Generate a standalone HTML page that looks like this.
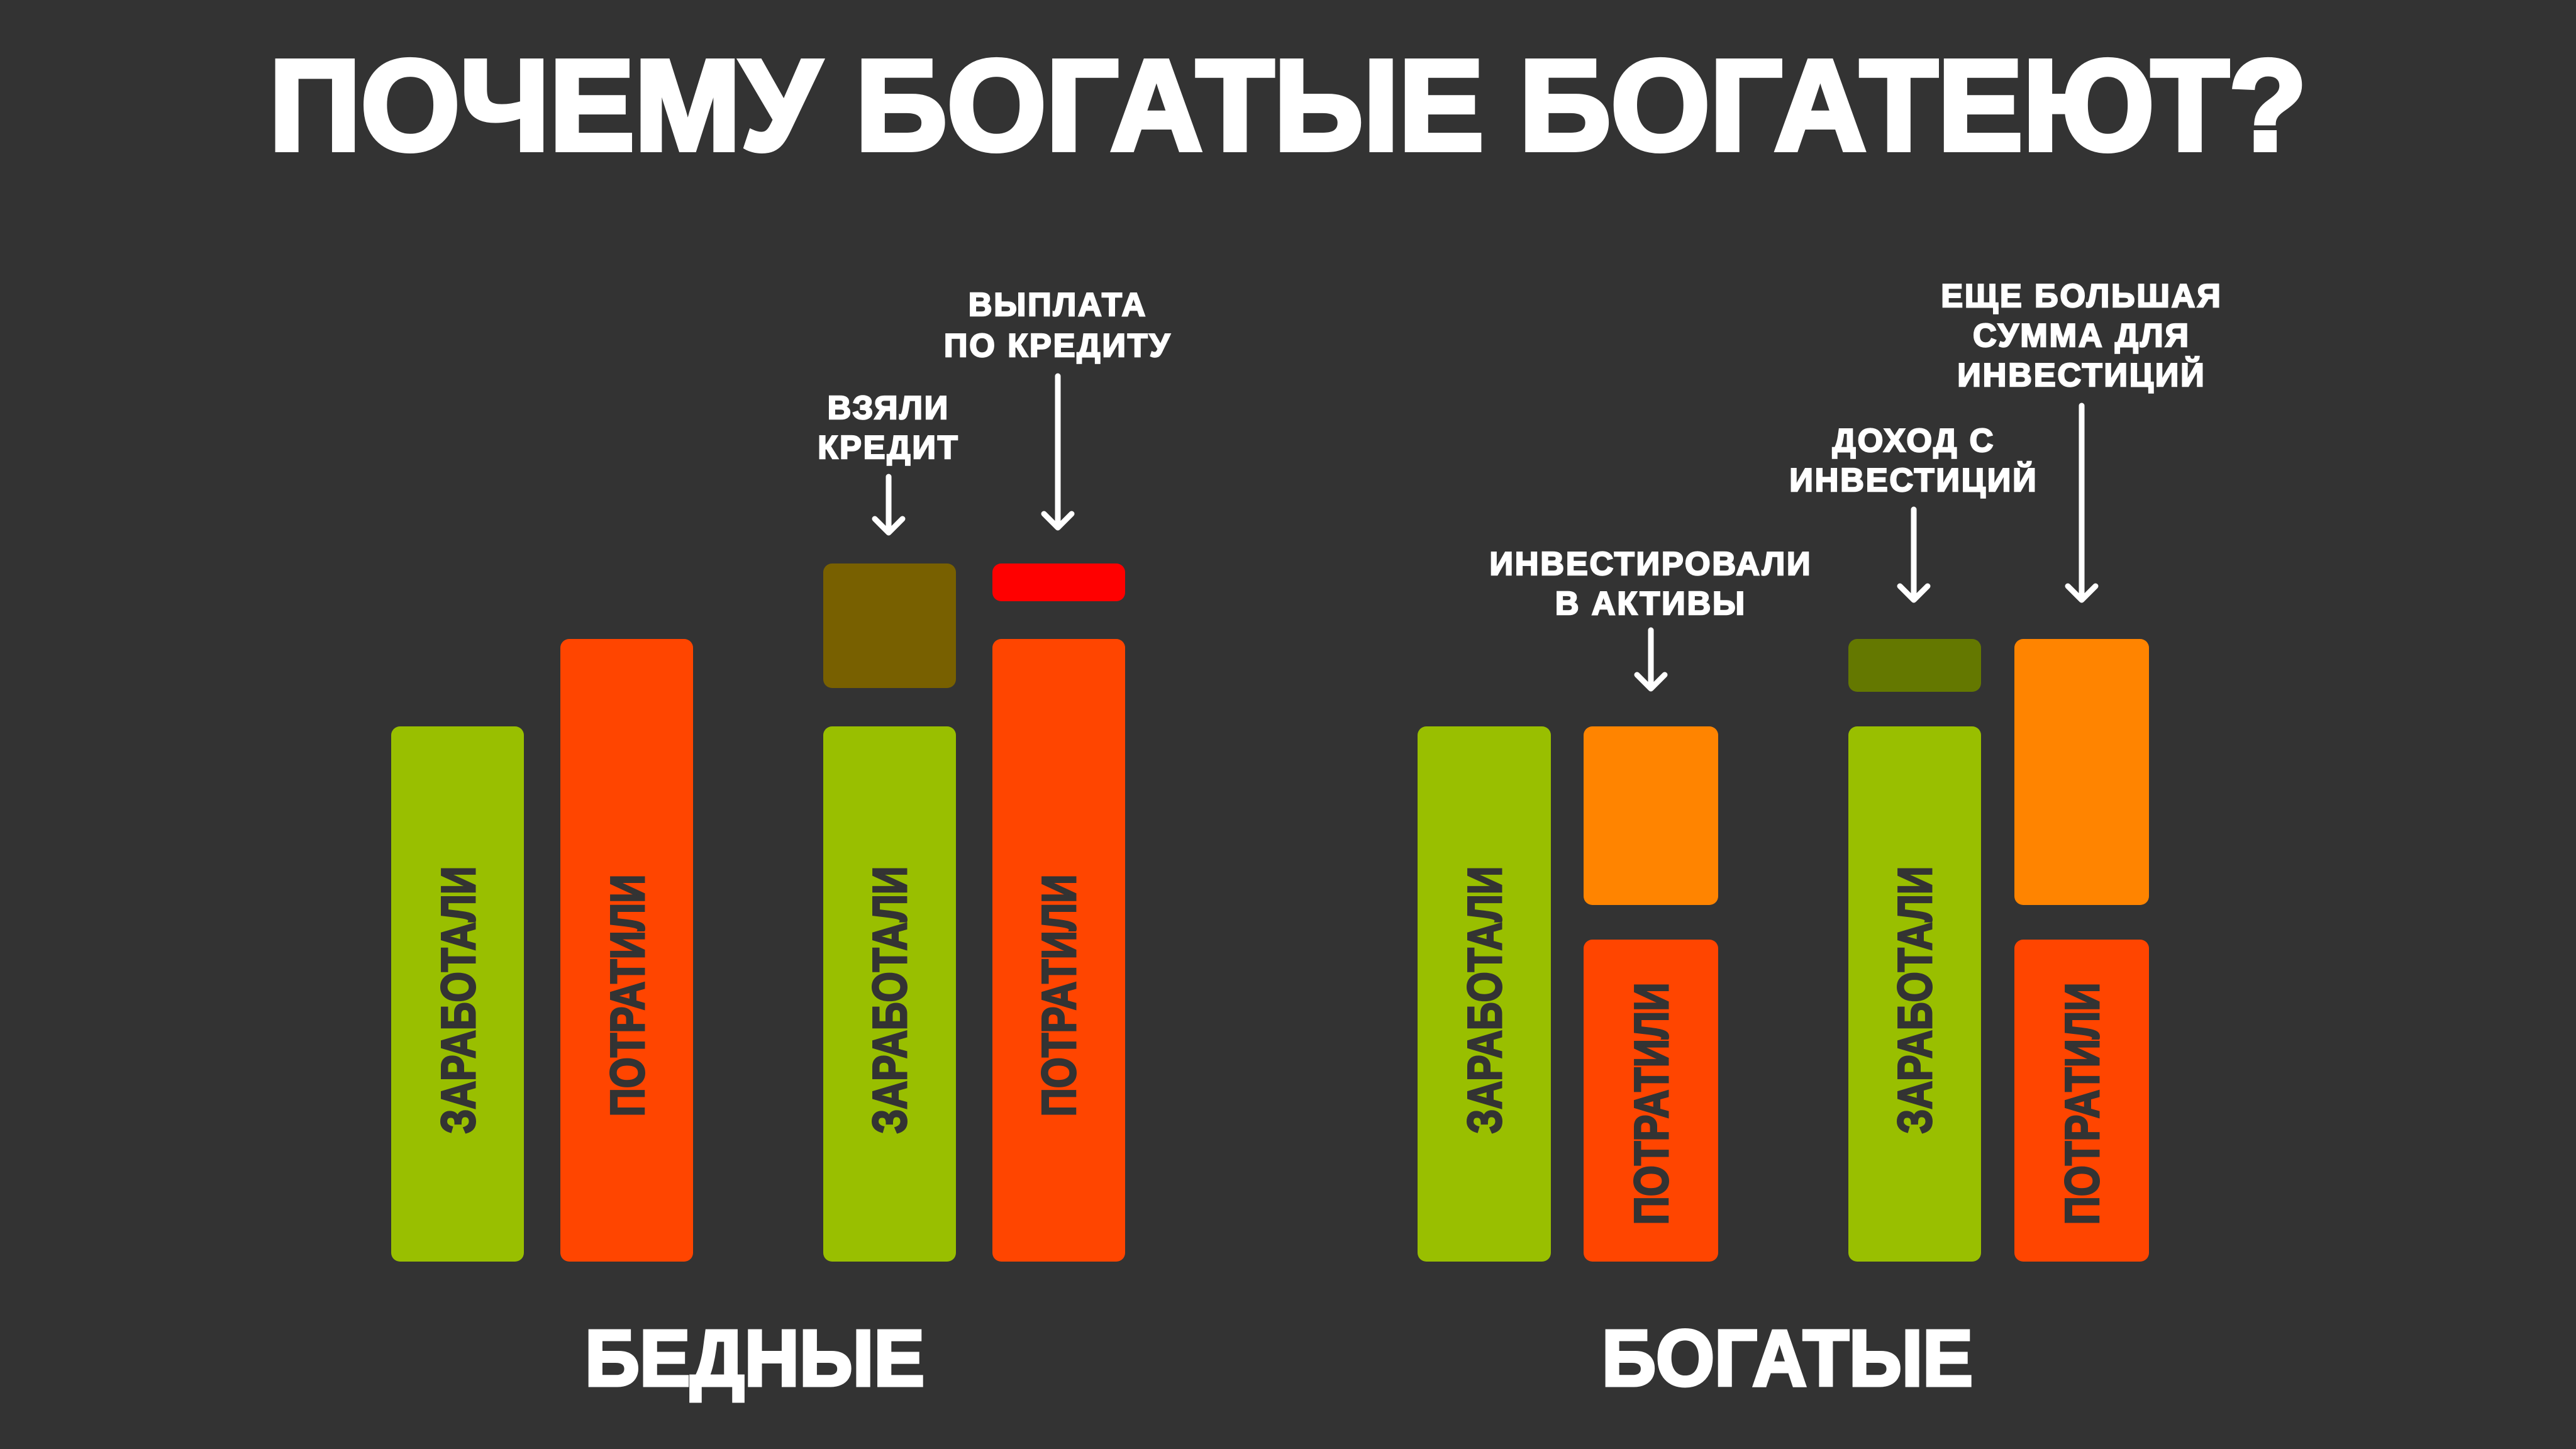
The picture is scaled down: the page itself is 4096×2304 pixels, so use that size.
<!DOCTYPE html>
<html><head><meta charset="utf-8"><style>
html,body{margin:0;padding:0;background:#333333;}
svg{display:block}
text{font-family:"Liberation Sans","DejaVu Sans",sans-serif;font-weight:bold;}
</style></head><body>
<svg width="4096" height="2304" viewBox="0 0 4096 2304" xmlns="http://www.w3.org/2000/svg">
<rect width="4096" height="2304" fill="#333333"/>
<text x="2048" y="238" text-anchor="middle" fill="#fff" font-size="205" textLength="3240" lengthAdjust="spacingAndGlyphs" stroke="#fff" stroke-width="8">ПОЧЕМУ БОГАТЫЕ БОГАТЕЮТ?</text>

<g>
<rect x="622" y="1155" width="211" height="851" rx="14" fill="#99bf00"/>
<rect x="891" y="1016" width="211" height="990" rx="14" fill="#ff4500"/>
<rect x="1309" y="896" width="211" height="198" rx="14" fill="#786000"/>
<rect x="1309" y="1155" width="211" height="851" rx="14" fill="#99bf00"/>
<rect x="1578" y="896" width="211" height="60" rx="14" fill="#ff0000"/>
<rect x="1578" y="1016" width="211" height="990" rx="14" fill="#ff4500"/>

<rect x="2254" y="1155" width="212" height="851" rx="14" fill="#99bf00"/>
<rect x="2518" y="1155" width="214" height="284" rx="14" fill="#ff8400"/>
<rect x="2518" y="1494" width="214" height="512" rx="14" fill="#ff4500"/>
<rect x="2939" y="1016" width="211" height="84" rx="14" fill="#647800"/>
<rect x="2939" y="1155" width="211" height="851" rx="14" fill="#99bf00"/>
<rect x="3203" y="1016" width="214" height="423" rx="14" fill="#ff8400"/>
<rect x="3203" y="1494" width="214" height="512" rx="14" fill="#ff4500"/>
</g>

<g fill="#333333" font-size="76" text-anchor="middle" stroke="#333333" stroke-width="3">
<text transform="translate(755,1590) rotate(-90)" textLength="425" lengthAdjust="spacingAndGlyphs">ЗАРАБОТАЛИ</text>
<text transform="translate(1024,1583) rotate(-90)" textLength="385" lengthAdjust="spacingAndGlyphs">ПОТРАТИЛИ</text>
<text transform="translate(1441,1590) rotate(-90)" textLength="425" lengthAdjust="spacingAndGlyphs">ЗАРАБОТАЛИ</text>
<text transform="translate(1710,1583) rotate(-90)" textLength="385" lengthAdjust="spacingAndGlyphs">ПОТРАТИЛИ</text>
<text transform="translate(2387,1590) rotate(-90)" textLength="425" lengthAdjust="spacingAndGlyphs">ЗАРАБОТАЛИ</text>
<text transform="translate(2652,1755) rotate(-90)" textLength="385" lengthAdjust="spacingAndGlyphs">ПОТРАТИЛИ</text>
<text transform="translate(3071,1590) rotate(-90)" textLength="425" lengthAdjust="spacingAndGlyphs">ЗАРАБОТАЛИ</text>
<text transform="translate(3337,1755) rotate(-90)" textLength="385" lengthAdjust="spacingAndGlyphs">ПОТРАТИЛИ</text>
</g>

<g fill="#fff" font-size="52" text-anchor="middle" stroke="#fff" stroke-width="2.5" letter-spacing="3">
<text x="1413" y="666">ВЗЯЛИ</text>
<text x="1413" y="729">КРЕДИТ</text>
<text x="1682" y="502">ВЫПЛАТА</text>
<text x="1682" y="567">ПО КРЕДИТУ</text>
<text x="2625" y="914">ИНВЕСТИРОВАЛИ</text>
<text x="2625" y="977">В АКТИВЫ</text>
<text x="3043" y="718">ДОХОД С</text>
<text x="3043" y="781">ИНВЕСТИЦИЙ</text>
<text x="3310" y="488">ЕЩЕ БОЛЬШАЯ</text>
<text x="3310" y="551">СУММА ДЛЯ</text>
<text x="3310" y="614">ИНВЕСТИЦИЙ</text>
</g>

<g stroke="#fff" stroke-width="9" fill="none" stroke-linecap="round" stroke-linejoin="round">
<path d="M1413 758 V847 M1391 825 L1413 847 L1435 825"/>
<path d="M1682 598 V839 M1660 817 L1682 839 L1704 817"/>
<path d="M2625 1002 V1095 M2603 1073 L2625 1095 L2647 1073"/>
<path d="M3043 810 V954 M3021 932 L3043 954 L3065 932"/>
<path d="M3310 645 V954 M3288 932 L3310 954 L3332 932"/>
</g>

<g fill="#fff" font-size="126" text-anchor="middle" stroke="#fff" stroke-width="5">
<text x="1200" y="2203" textLength="540" lengthAdjust="spacingAndGlyphs">БЕДНЫЕ</text>
<text x="2842" y="2203" textLength="590" lengthAdjust="spacingAndGlyphs">БОГАТЫЕ</text>
</g>
</svg>
</body></html>
